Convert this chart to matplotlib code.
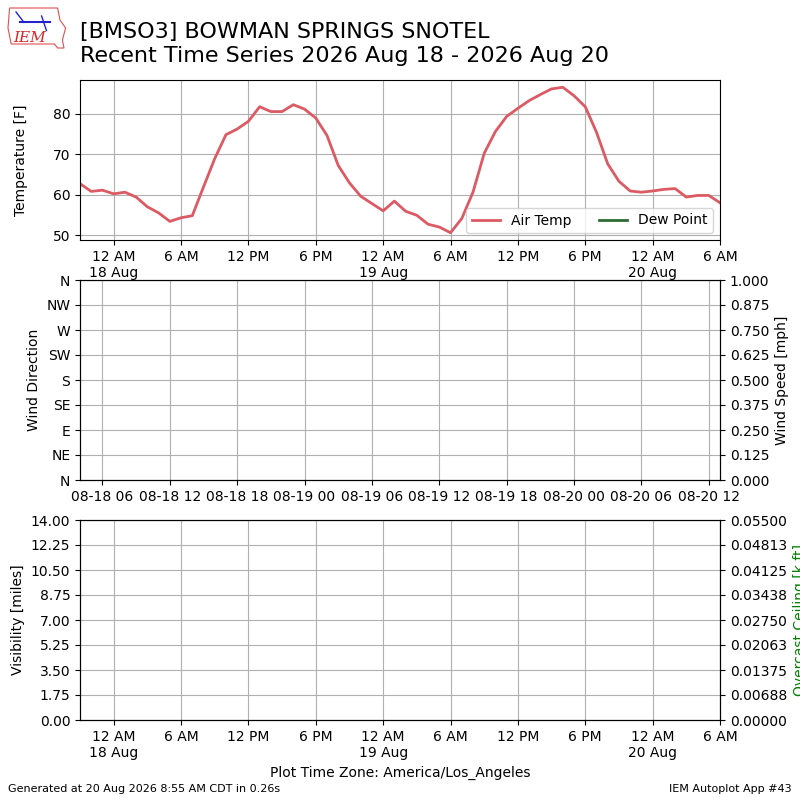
from datetime import datetime, timedelta, timezone
from zoneinfo import ZoneInfo
import numpy as np
import matplotlib
matplotlib.use("Agg")
import matplotlib.pyplot as plt
import matplotlib.dates as mdates
from matplotlib.ticker import FixedLocator, FuncFormatter

LA = ZoneInfo("America/Los_Angeles")

# hourly obs, starting 2026-08-18 04:00 UTC (17 Aug 9 PM PDT)
start_utc = datetime(2026, 8, 18, 4, 0, tzinfo=timezone.utc)
air_temp = [62.7, 60.8, 61.1, 60.2, 60.6, 59.4, 57.0, 55.5, 53.4, 54.3,
            54.8, 61.9, 68.9, 74.8, 76.2, 78.1, 81.7, 80.5, 80.5, 82.2,
            81.1, 78.9, 74.6, 67.2, 62.9, 59.6, 57.8, 56.0, 58.4, 55.9,
            54.9, 52.7, 52.0, 50.6, 54.1, 60.6, 70.2, 75.6, 79.3, 81.3,
            83.2, 84.7, 86.1, 86.5, 84.4, 81.7, 75.4, 67.6, 63.3, 60.9,
            60.6, 60.9, 61.3, 61.5, 59.4, 59.8, 59.8, 58.0]
dew_point = []
times = [start_utc + timedelta(hours=i) for i in range(len(air_temp))]

dir_ticks = [0, 45, 90, 135, 180, 225, 270, 315, 360]
dir_labels = ["N", "NE", "E", "SE", "S", "SW", "W", "NW", "N"]
vis_ticks = np.arange(0, 14.01, 1.75)
ceil_ticks = np.linspace(0, 0.055, 9)
speed_ticks = np.arange(0, 1.001, 0.125)

title = ("[BMSO3] BOWMAN SPRINGS SNOTEL\n"
         "Recent Time Series 2026 Aug 18 - 2026 Aug 20")


def local_fmt(x, pos=None):
    dt = mdates.num2date(x, tz=LA)
    if dt.hour == 0:
        return "12 AM\n" + dt.strftime("%d %b")
    h = dt.hour % 12
    if h == 0:
        h = 12
    return "%d %s" % (h, "AM" if dt.hour < 12 else "PM")


def local_axis(ax):
    ax.xaxis.set_major_locator(mdates.HourLocator(byhour=[0, 6, 12, 18], tz=LA))
    ax.xaxis.set_major_formatter(FuncFormatter(local_fmt))


fig = plt.figure(figsize=(8, 8), dpi=100)
fig.text(0.1, 0.918, title, fontsize=16, ha="left", va="bottom")

# rough IEM logo
fig.add_artist(plt.Polygon([[0.012, 0.99], [0.072, 0.99], [0.075, 0.975],
                            [0.082, 0.965], [0.078, 0.95], [0.08, 0.94],
                            [0.072, 0.94], [0.068, 0.945], [0.014, 0.945],
                            [0.01, 0.965]], closed=True, fill=False,
                           edgecolor="#e05050", lw=0.8,
                           transform=fig.transFigure))
fig.text(0.016, 0.947, "IEM", color="#d62728", fontsize=11, style="italic",
         family="serif")
fig.add_artist(plt.Line2D([0.025, 0.062], [0.972, 0.972], color="#2222cc",
                          lw=1.5, transform=fig.transFigure))
fig.add_artist(plt.Line2D([0.02, 0.03], [0.985, 0.972], color="#2222cc",
                          lw=1.0, transform=fig.transFigure))
fig.add_artist(plt.Line2D([0.052, 0.058], [0.98, 0.962], color="#2222cc",
                          lw=1.0, transform=fig.transFigure))

xlim = (times[0], times[-1])

# temperature
ax1 = fig.add_axes([0.1, 0.7, 0.8, 0.2])
ax1.plot(times, air_temp, color="#dc5a63", lw=2, label="Air Temp")
ax1.plot(times[:len(dew_point)], dew_point, color="#2f6b34", lw=2,
         label="Dew Point")
ax1.set_xlim(xlim)
ax1.set_ylabel("Temperature [F]")
ax1.yaxis.set_label_coords(-0.082, 0.5)
local_axis(ax1)
ax1.grid(True)
ax1.legend(loc="lower right", ncol=2)

# wind
ax2 = fig.add_axes([0.1, 0.4, 0.8, 0.25])
ax2.set_xlim(xlim)
ax2.set_ylim(0, 360)
ax2.yaxis.set_major_locator(FixedLocator(dir_ticks))
ax2.set_yticklabels(dir_labels)
ax2.set_ylabel("Wind Direction")
ax2.xaxis.set_major_locator(mdates.HourLocator(byhour=[0, 6, 12, 18],
                                               tz=timezone.utc))
ax2.xaxis.set_major_formatter(mdates.DateFormatter("%m-%d %H",
                                                   tz=timezone.utc))
ax2.grid(True)
ax2b = ax2.twinx()
ax2b.set_ylim(0, 1)
ax2b.set_yticks(speed_ticks)
ax2b.set_ylabel("Wind Speed [mph]")

# visibility / ceiling
ax3 = fig.add_axes([0.1, 0.1, 0.8, 0.25])
ax3.set_xlim(xlim)
ax3.set_ylim(0, 14)
ax3.set_yticks(vis_ticks)
ax3.yaxis.set_major_formatter(FuncFormatter(lambda v, p: "%.2f" % v))
ax3.set_ylabel("Visibility [miles]")
ax3.set_xlabel("Plot Time Zone: America/Los_Angeles")
local_axis(ax3)
ax3.grid(True)
ax3b = ax3.twinx()
ax3b.set_ylim(0, 0.055)
ax3b.set_yticks(ceil_ticks)
ax3b.yaxis.set_major_formatter(FuncFormatter(lambda v, p: "%.5f" % v))
ax3b.set_ylabel("Overcast Ceiling [k ft]", color="g")

fig.text(0.01, 0.01, "Generated at 20 Aug 2026 8:55 AM CDT in 0.26s",
         fontsize=8)
fig.text(0.99, 0.01, "IEM Autoplot App #43", fontsize=8, ha="right")

fig.savefig("out.png")
